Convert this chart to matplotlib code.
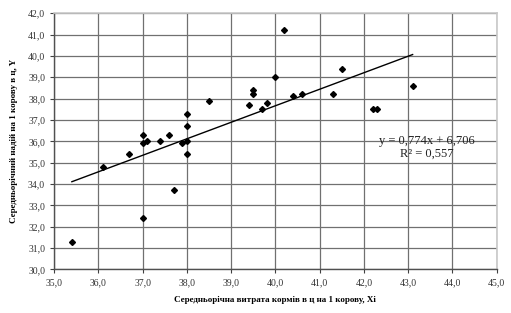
import matplotlib
matplotlib.use("Agg")
import matplotlib.pyplot as plt
import numpy as np
from matplotlib.ticker import FuncFormatter, MultipleLocator

x_vals = [35.4, 36.1, 36.7, 37.0, 37.0, 37.0, 37.1, 37.4, 37.6, 37.7,
          37.9, 38.0, 38.0, 38.0, 38.0, 38.5, 39.4, 39.5, 39.5, 39.7,
          39.8, 40.0, 40.2, 40.4, 40.6, 41.3, 41.5, 42.2, 42.3, 43.1]
y_vals = [31.3, 34.8, 35.4, 36.3, 35.9, 32.4, 36.0, 36.0, 36.3, 33.7,
          35.9, 37.3, 36.7, 36.0, 35.4, 37.9, 37.7, 38.4, 38.2, 37.5,
          37.8, 39.0, 41.2, 38.1, 38.2, 38.2, 39.4, 37.5, 37.5, 38.6]
slope = 0.774
intercept = 6.706
r_squared = 0.557

x_label = "Середньорічна витрата кормів в ц на 1 корову, Хі"
y_label = "Середньорічний надій на 1 корову в ц, Y"

plt.rcParams['font.family'] = ['Liberation Serif', 'DejaVu Serif']

fig = plt.figure(figsize=(5.11, 3.13), dpi=100)
ax = fig.add_axes([0.106, 0.1396, 0.866, 0.818])

ax.set_xlim(35, 45)
ax.set_ylim(30, 42)
ax.xaxis.set_major_locator(MultipleLocator(1))
ax.yaxis.set_major_locator(MultipleLocator(1))
fmt = FuncFormatter(lambda v, p: f"{v:.1f}".replace('.', ','))
ax.xaxis.set_major_formatter(fmt)
ax.yaxis.set_major_formatter(fmt)
ax.tick_params(labelsize=7, colors='#404040', length=3, width=0.8)
ax.tick_params(axis='both', labelcolor='#333333')
ax.grid(True, color='#707070', linewidth=0.9)
ax.set_axisbelow(True)

for side in ['top', 'right']:
    ax.spines[side].set_color('#c8c8c8')
    ax.spines[side].set_linewidth(1.2)
for side in ['left', 'bottom']:
    ax.spines[side].set_color('#505050')
    ax.spines[side].set_linewidth(1.0)

ax.plot(x_vals, y_vals, linestyle='none', marker='D', markersize=3.0,
        color='black', zorder=3)

xl = np.array([min(x_vals), max(x_vals)])
ax.plot(xl, slope * xl + intercept, color='black', linewidth=1.0, zorder=3)

eq = f"y = {slope:.3f}x + {intercept:.3f}".replace('.', ',')
r2 = f"R² = {r_squared:.3f}".replace('.', ',')
ax.text(43.43, 35.7, eq + "\n" + r2, ha='center', va='center',
        fontsize=9, color='#222222', linespacing=1.1, zorder=4)

ax.set_xlabel(x_label, fontsize=6.5, fontweight='bold', labelpad=6)
ax.set_ylabel(y_label, fontsize=6.5, fontweight='bold', labelpad=7)

fig.savefig("out.png", dpi=100)
